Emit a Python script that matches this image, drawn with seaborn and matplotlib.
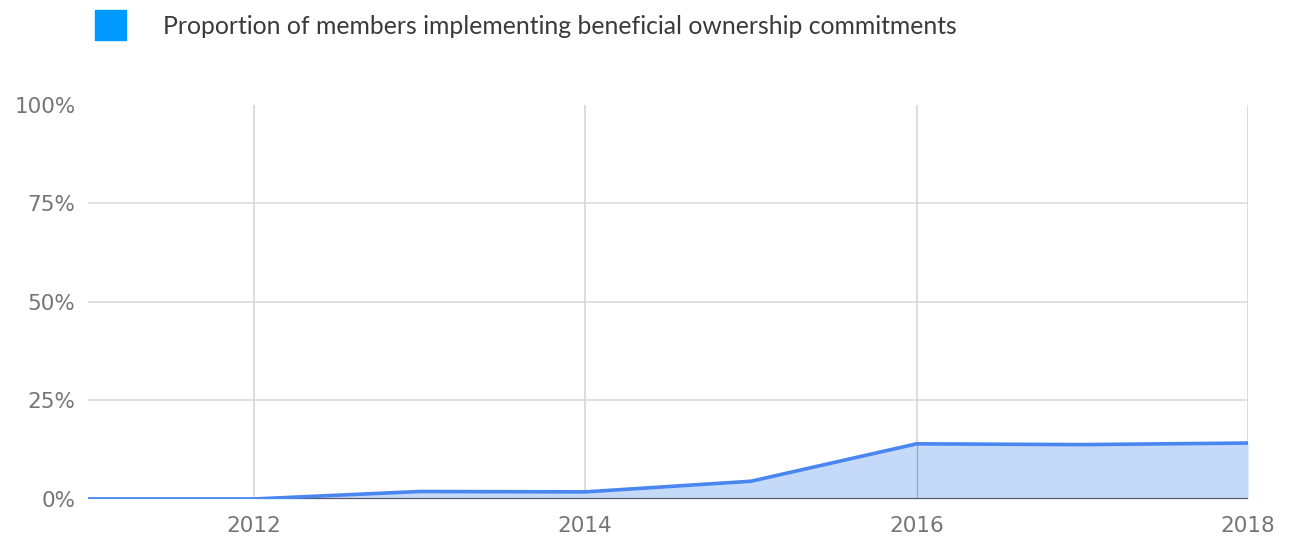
import matplotlib
matplotlib.use("Agg")
import matplotlib.pyplot as plt
import seaborn as sns
import pandas as pd
from matplotlib.patches import Rectangle

years = [2011, 2012, 2013, 2014, 2015, 2016, 2017, 2018]
share = [0.0, 0.0, 1.9, 1.8, 4.5, 14.0, 13.8, 14.2]
series_label = "Proportion of members implementing beneficial ownership commitments"
x_ticks = [2012, 2014, 2016, 2018]
y_ticks = [0, 25, 50, 75, 100]
y_tick_labels = ["0%", "25%", "50%", "75%", "100%"]

df = pd.DataFrame({"year": years, "share": share})

sns.set_theme(style="white")
plt.rcParams["font.family"] = ["DejaVu Sans"]

fig = plt.figure(figsize=(12.91, 5.37), dpi=100)
ax = fig.add_axes([0.0682, 0.0708, 0.8985, 0.7337])

line_color = "#4a86f0"
fill_color = "#c5d9f8"

ax.fill_between(df["year"], df["share"], 0, color=fill_color, linewidth=0, zorder=2)
sns.lineplot(data=df, x="year", y="share", ax=ax, color=line_color, linewidth=2.6, zorder=4)

ax.set_xlim(2011, 2018)
ax.set_ylim(0, 100)
ax.set_xticks(x_ticks)
ax.set_yticks(y_ticks)
ax.set_yticklabels(y_tick_labels)
ax.set_xlabel("")
ax.set_ylabel("")

for s in ax.spines.values():
    s.set_visible(False)
ax.axhline(0, color="#555b66", linewidth=1.6, zorder=3)

for y in [25, 50, 75]:
    ax.axhline(y, color="#dcdcdc", linewidth=1.2, zorder=1)
for x in x_ticks:
    ax.axvline(x, color="#d6d6d6", linewidth=1.2, zorder=1)
ax.plot([2016, 2016], [0, 14.0], color="#8fa9cf", linewidth=0.9, zorder=2.5)

ax.tick_params(axis="both", length=0, labelsize=15.5, labelcolor="#757575")
ax.tick_params(axis="y", pad=9)
ax.tick_params(axis="x", pad=12)

# legend
fig.patches.append(Rectangle((95 / 1291, 1 - 40 / 537), 31 / 1291, 30 / 537,
                             transform=fig.transFigure, color="#0099ff", zorder=5))
fig.text(163 / 1291, 1 - 27 / 537, series_label, fontsize=17.8, color="#3a3a3a",
         va="center", ha="left", family=["Lato", "DejaVu Sans"], fontweight="normal")

fig.savefig("out.png", dpi=100, facecolor="white")
